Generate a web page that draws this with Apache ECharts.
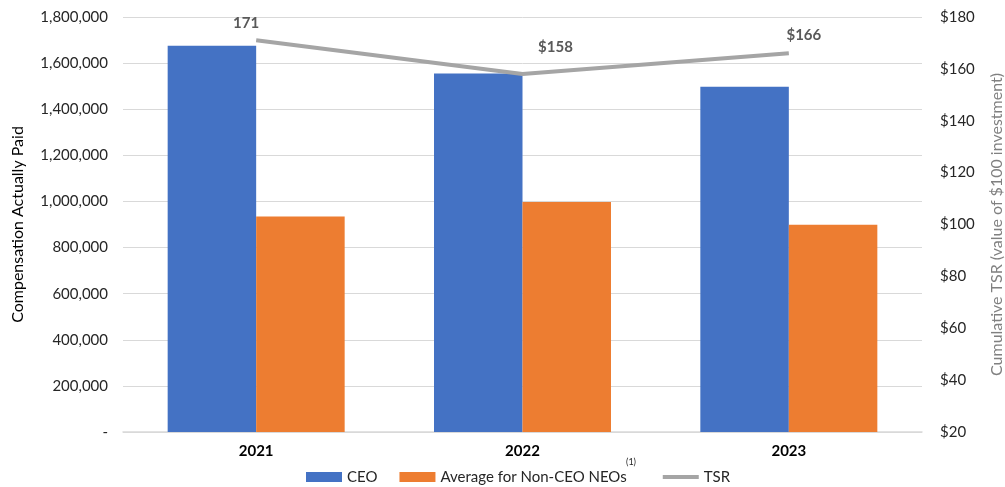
<!DOCTYPE html>
<html>
<head>
<meta charset="utf-8">
<script src="https://cdn.jsdelivr.net/npm/echarts@6/dist/echarts.min.js"></script>
<style>html,body{margin:0;padding:0;background:#fff}#c{width:1005px;height:487px}</style>
</head>
<body>
<div id="c"></div>
<script>
var years = ['2021', '2022', '2023'];
var ceoValues = [1675000, 1555000, 1497000];
var neoValues = [935000, 998000, 899000];
var tsrValues = [171, 158, 166];
var tsrLabels = ['171', '$158', '$166'];
var tsrLabelOffsets = [[-10, -5], [33, -14], [15, -6]];
var footnoteMark = '(1)';

var FONT = 'Lato';
var chart = echarts.init(document.getElementById('c'));
chart.setOption({
  animation: false,
  textStyle: { fontFamily: FONT },
  grid: { left: 123, right: 83, top: 17, bottom: 55, outerBoundsMode: 'none', containLabel: false },
  legend: {
    left: 306, top: 469, padding: 0,
    itemWidth: 36, itemHeight: 10, itemGap: 22,
    textStyle: {
      fontFamily: FONT, fontSize: 15, color: '#262626', lineHeight: 16,
      rich: {
        n: { fontFamily: FONT, fontSize: 15, color: '#262626', lineHeight: 16 },
        s: { fontFamily: FONT, fontSize: 9, color: 'rgba(0,0,0,0)', lineHeight: 9, padding: [0, 0, 0, 4] }
      }
    },
    formatter: function (name) {
      return name === 'Average for Non-CEO NEOs' ? '{n|' + name + '}{s|' + footnoteMark + '}' : name;
    },
    data: [
      { name: 'CEO', icon: 'rect' },
      { name: 'Average for Non-CEO NEOs', icon: 'rect' },
      { name: 'TSR', icon: 'path://M0,0H36V4H0Z', itemStyle: { color: '#A5A5A5' } }
    ]
  },
  graphic: [{
    type: 'text', left: 626, top: 458,
    style: { text: footnoteMark, fontFamily: FONT, fontSize: 9, fill: '#262626' }
  }],
  xAxis: {
    type: 'category',
    data: years,
    axisLine: { lineStyle: { color: '#d9d9d9', width: 1.5 } },
    axisTick: { show: false },
    axisLabel: { fontFamily: FONT, fontSize: 15, fontWeight: 'bold', color: '#000', margin: 12 }
  },
  yAxis: [
    {
      type: 'value', min: 0, max: 1800000, interval: 200000,
      name: 'Compensation Actually Paid', nameLocation: 'middle', nameGap: 97,
      nameTextStyle: { fontFamily: FONT, fontSize: 16, color: '#000' },
      axisLine: { show: false }, axisTick: { show: false },
      splitLine: { lineStyle: { color: '#d9d9d9', width: 1 } },
      axisLabel: {
        fontFamily: FONT, fontSize: 15, color: '#262626', margin: 15,
        formatter: function (v) { return v === 0 ? '-' : v.toLocaleString('en-US'); }
      }
    },
    {
      type: 'value', min: 20, max: 180, interval: 20,
      name: 'Cumulative TSR (value of $100 investment)', nameLocation: 'middle', nameGap: 67,
      nameTextStyle: { fontFamily: FONT, fontSize: 16, color: '#808080' },
      axisLine: { show: false }, axisTick: { show: false },
      splitLine: { show: false },
      axisLabel: {
        fontFamily: FONT, fontSize: 15, color: '#262626', margin: 18,
        formatter: function (v) { return '$' + v; }
      }
    }
  ],
  series: [
    {
      name: 'CEO', type: 'bar', data: ceoValues, barWidth: 88.5, barGap: '0%',
      itemStyle: { color: '#4472C4' }
    },
    {
      name: 'Average for Non-CEO NEOs', type: 'bar', data: neoValues, barWidth: 88.5, barGap: '0%',
      itemStyle: { color: '#ED7D31' }
    },
    {
      name: 'TSR', type: 'line', yAxisIndex: 1, symbol: 'circle', symbolSize: 0.1, showSymbol: true,
      lineStyle: { color: '#A5A5A5', width: 4 },
      itemStyle: { color: '#A5A5A5' },
      label: { show: true, position: 'top', distance: 5, fontFamily: FONT, fontSize: 15, fontWeight: 'bold', color: '#595959' },
      data: tsrValues.map(function (v, i) {
        return {
          value: v,
          label: { offset: tsrLabelOffsets[i], formatter: tsrLabels[i] }
        };
      })
    }
  ]
});
</script>
</body>
</html>
